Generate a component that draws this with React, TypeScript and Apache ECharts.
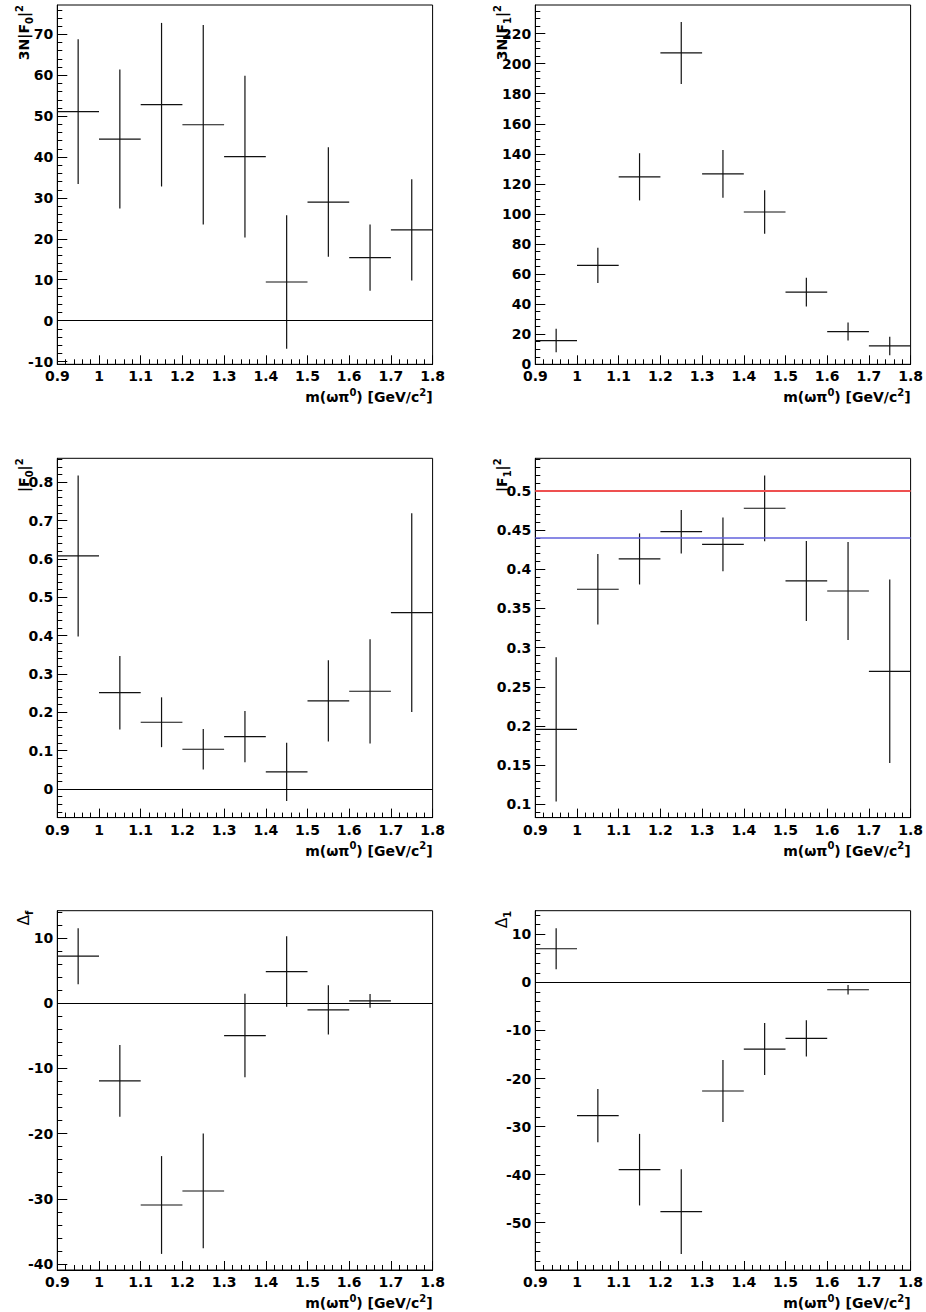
import React, { useEffect, useRef } from "react";
import * as echarts from "echarts";

// ---------- data ----------
const massCenters = [0.95, 1.05, 1.15, 1.25, 1.35, 1.45, 1.55, 1.65, 1.75];
const binHalfWidth = 0.05;
const xTicks = [0.9, 1, 1.1, 1.2, 1.3, 1.4, 1.5, 1.6, 1.7, 1.8];

const f0Norm = [51.1, 44.4, 52.8, 47.9, 40.1, 9.45, 29.0, 15.4, 22.2];
const f0NormErr = [17.7, 17.0, 20.0, 24.4, 19.8, 16.3, 13.4, 8.1, 12.4];

const f1Norm = [15.8, 65.8, 124.7, 207.1, 126.7, 101.3, 48.0, 21.8, 12.2];
const f1NormErr = [7.8, 11.8, 15.7, 20.6, 15.9, 14.4, 9.6, 6.0, 6.2];

const f0Sq = [0.608, 0.251, 0.174, 0.1035, 0.1365, 0.0443, 0.2296, 0.2548, 0.46];
const f0SqErr = [0.21, 0.096, 0.065, 0.053, 0.067, 0.076, 0.106, 0.136, 0.259];

const f1Sq = [0.1957, 0.3745, 0.4132, 0.448, 0.4319, 0.4779, 0.3851, 0.3723, 0.2698];
const f1SqErr = [0.092, 0.045, 0.0326, 0.0277, 0.0343, 0.042, 0.051, 0.0626, 0.1172];
const f1RedLevel = 0.5;
const f1BlueLevel = 0.443;

const deltaLeft = [7.21, -11.92, -30.95, -28.8, -4.96, 4.86, -1.02, 0.36];
const deltaLeftErr = [4.3, 5.5, 7.5, 8.8, 6.4, 5.4, 3.76, 1.04];

const deltaRight = [7.0, -27.74, -38.97, -47.7, -22.6, -13.87, -11.65, -1.53];
const deltaRightErr = [4.27, 5.55, 7.45, 8.8, 6.45, 5.4, 3.75, 0.97];

const yTicks1 = [-10, 0, 10, 20, 30, 40, 50, 60, 70];
const yTicks2 = [0, 20, 40, 60, 80, 100, 120, 140, 160, 180, 200, 220];
const yTicks3 = [0, 0.1, 0.2, 0.3, 0.4, 0.5, 0.6, 0.7, 0.8];
const yTicks4 = [0.1, 0.15, 0.2, 0.25, 0.3, 0.35, 0.4, 0.45, 0.5];
const yTicks5 = [-40, -30, -20, -10, 0, 10];
const yTicks6 = [-50, -40, -30, -20, -10, 0, 10];

const xTitle = "{m|m(\u03c9\u03c0}{sup|0}{m|) [GeV/c}{sup|2}{m|]}";

// ---------- layout ----------
const COLS = [57.3, 535.3];
const ROWS = [5, 458.3, 910.7];
const PW = 375.3;
const PH = 359.3;
const FONT = "DejaVu Sans";

function minorValues(min: number, max: number, step: number) {
  const out: number[] = [];
  const start = Math.ceil(min / step - 1e-9);
  const end = Math.floor(max / step + 1e-9);
  for (let k = start; k <= end; k++) out.push(+(k * step).toFixed(6));
  return out;
}

type Panel = {
  vals: number[];
  errs: number[];
  yMin: number;
  yMax: number;
  yTicks: number[];
  yMinor: number;
  title: string;
  lines: { v: number; color: string; width: number }[];
};

const panels: Panel[] = [
  { vals: f0Norm, errs: f0NormErr, yMin: -10.68, yMax: 77.18, yTicks: yTicks1, yMinor: 2,
    title: "{m|3N|F}{sub|0}{m||}{sup|2}", lines: [{ v: 0, color: "#000", width: 1 }] },
  { vals: f1Norm, errs: f1NormErr, yMin: 0, yMax: 239, yTicks: yTicks2, yMinor: 5,
    title: "{m|3N|F}{sub|1}{m||}{sup|2}", lines: [] },
  { vals: f0Sq, errs: f0SqErr, yMin: -0.0748, yMax: 0.8626, yTicks: yTicks3, yMinor: 0.02,
    title: "{m||F}{sub|0}{m||}{sup|2}", lines: [{ v: 0, color: "#000", width: 1 }] },
  { vals: f1Sq, errs: f1SqErr, yMin: 0.083, yMax: 0.5417, yTicks: yTicks4, yMinor: 0.01,
    title: "{m||F}{sub|1}{m||}{sup|2}",
    lines: [{ v: f1RedLevel, color: "#ee5050", width: 2 }, { v: f1BlueLevel, color: "#6262dd", width: 1.5 }] },
  { vals: deltaLeft, errs: deltaLeftErr, yMin: -40.92, yMax: 14.19, yTicks: yTicks5, yMinor: 2,
    title: "{d|\u0394}{sub|f}", lines: [{ v: 0, color: "#000", width: 1 }] },
  { vals: deltaRight, errs: deltaRightErr, yMin: -59.85, yMax: 14.92, yTicks: yTicks6, yMinor: 2,
    title: "{d|\u0394}{sub|1}", lines: [{ v: 0, color: "#000", width: 1 }] },
];

const richStyles = {
  m: { fontSize: 14, fontWeight: "bold", fontFamily: FONT, lineHeight: 22, verticalAlign: "middle" },
  d: { fontSize: 15, fontFamily: FONT, lineHeight: 22, verticalAlign: "middle" },
  sub: { fontSize: 10, fontWeight: "bold", fontFamily: FONT, lineHeight: 22, verticalAlign: "bottom", padding: [0, 0, 1, 0] },
  sup: { fontSize: 10, fontWeight: "bold", fontFamily: FONT, lineHeight: 22, verticalAlign: "top", padding: [1, 0, 0, 0] },
};

const fmt = (v: number) => `${+(+v).toFixed(4)}`;

function buildOption() {
  const grid: any[] = [];
  const xAxis: any[] = [];
  const yAxis: any[] = [];
  const series: any[] = [];
  const graphic: any[] = [];
  const xMinor = minorValues(0.9, 1.8, 0.02);

  panels.forEach((p, i) => {
    const left = COLS[i % 2];
    const top = ROWS[Math.floor(i / 2)];
    grid.push({
      left, top, width: PW, height: PH, show: true,
      borderColor: "#000", borderWidth: 1, backgroundColor: "transparent",
      containLabel: false, outerBoundsMode: "none",
    });
    const labelStyle = { fontSize: 14, fontWeight: "bold", fontFamily: FONT, color: "#000" };
    xAxis.push({
      type: "value", gridIndex: i, min: 0.9, max: 1.8, position: "bottom",
      axisLine: { show: true, onZero: false, lineStyle: { color: "#000", width: 1 } },
      axisTick: { show: true, inside: true, length: 9, customValues: xTicks, lineStyle: { color: "#000", width: 1 } },
      axisLabel: { show: true, customValues: xTicks, margin: 5, formatter: fmt, ...labelStyle },
      splitLine: { show: false },
    });
    xAxis.push({
      type: "value", gridIndex: i, min: 0.9, max: 1.8, position: "bottom",
      axisLine: { show: false, onZero: false },
      axisTick: { show: true, inside: true, length: 5, customValues: xMinor, lineStyle: { color: "#000", width: 1 } },
      axisLabel: { show: false },
      splitLine: { show: false },
    });
    yAxis.push({
      type: "value", gridIndex: i, min: p.yMin, max: p.yMax, position: "left",
      axisLine: { show: true, onZero: false, lineStyle: { color: "#000", width: 1 } },
      axisTick: { show: true, inside: true, length: 10, customValues: p.yTicks, lineStyle: { color: "#000", width: 1 } },
      axisLabel: { show: true, customValues: p.yTicks, margin: 4, formatter: fmt, ...labelStyle },
      splitLine: { show: false },
    });
    yAxis.push({
      type: "value", gridIndex: i, min: p.yMin, max: p.yMax, position: "left",
      axisLine: { show: false, onZero: false },
      axisTick: { show: true, inside: true, length: 5, customValues: minorValues(p.yMin, p.yMax, p.yMinor), lineStyle: { color: "#000", width: 1 } },
      axisLabel: { show: false },
      splitLine: { show: false },
    });

    p.lines.forEach((ln) => {
      series.push({
        type: "line", xAxisIndex: 2 * i, yAxisIndex: 2 * i, data: [], silent: true,
        markLine: {
          silent: true, symbol: ["none", "none"], label: { show: false },
          lineStyle: { color: ln.color, width: ln.width, type: "solid" },
          data: [{ yAxis: ln.v }],
        },
      });
    });

    series.push({
      type: "custom", xAxisIndex: 2 * i, yAxisIndex: 2 * i,
      data: p.vals.map((v, k) => [massCenters[k], v, p.errs[k]]),
      renderItem: (_params: any, api: any) => {
        const x = api.value(0);
        const y = api.value(1);
        const e = api.value(2);
        const l = api.coord([x - binHalfWidth, y]);
        const r = api.coord([x + binHalfWidth, y]);
        const t = api.coord([x, y + e]);
        const b = api.coord([x, y - e]);
        const style = { stroke: "#111", lineWidth: 1.2 };
        return {
          type: "group",
          children: [
            { type: "line", shape: { x1: l[0], y1: l[1], x2: r[0], y2: r[1] }, style },
            { type: "line", shape: { x1: t[0], y1: t[1], x2: b[0], y2: b[1] }, style },
          ],
        };
      },
    });

    graphic.push({
      type: "text", x: left - 33, y: top, rotation: Math.PI / 2, silent: true,
      style: { text: p.title, rich: richStyles, align: "right", verticalAlign: "middle", fill: "#000" },
    });
    graphic.push({
      type: "text", x: left + PW, y: top + PH + 33, silent: true,
      style: { text: xTitle, rich: richStyles, align: "right", verticalAlign: "middle", fill: "#000" },
    });
  });

  return { animation: false, backgroundColor: "#fff", grid, xAxis, yAxis, series, graphic };
}

export default function App() {
  const ref = useRef<HTMLDivElement>(null);
  useEffect(() => {
    if (!ref.current) return;
    const chart = echarts.init(ref.current, undefined, { renderer: "svg" });
    chart.setOption(buildOption() as any);
    return () => chart.dispose();
  }, []);
  return (
    <div
      ref={ref}
      style={{ position: "absolute", left: 0, top: 0, width: 926, height: 1312, background: "#fff" }}
    />
  );
}
